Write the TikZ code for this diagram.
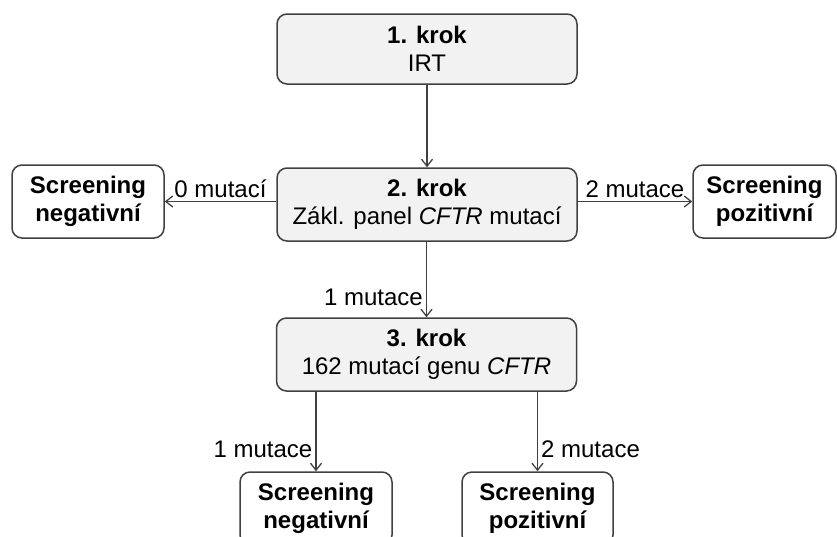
\documentclass[tikz,border=0pt]{standalone}
\usepackage{fontspec}
\setmainfont{Liberation Sans}
\usetikzlibrary{arrows.meta}
\definecolor{krokfill}{HTML}{F2F2F2}
\definecolor{ramec}{HTML}{404040}
\begin{document}
\begin{tikzpicture}[x=1pt, y=-1pt,
  every node/.style={font=\fontsize{24}{28}\selectfont},
  krok/.style={draw=ramec, line width=1.5pt, fill=krokfill, rounded corners=10pt,
    minimum width=300pt, minimum height=73pt, align=center, inner sep=0pt},
  vysledek/.style={draw=ramec, line width=1.5pt, fill=white, rounded corners=10pt,
    minimum width=152pt, minimum height=73pt, align=center, inner sep=0pt,
    font=\fontsize{24}{28}\selectfont\bfseries},
  sipka/.style={draw=ramec, line width=1.3pt, -{Straight Barb[length=7pt,width=11pt]}},
  popis/.style={inner sep=3pt}]
  \useasboundingbox (0,0) rectangle (837,536);
  % kroky
  \node[krok, minimum height=70pt] (k1) at (427,49) {\textbf{1. krok}\\IRT};
  \node[krok] (k2) at (427,204.5) {\textbf{2. krok}\\Zákl. panel \textit{CFTR} mutací};
  \node[krok] (k3) at (426.5,354.5) {\textbf{3. krok}\\162 mutací genu \textit{CFTR}};
  % vysledky
  \node[vysledek] (neg1) at (88,201.5) {Screening\\negativní};
  \node[vysledek, minimum width=143pt] (poz1) at (764.5,201.5) {Screening\\pozitivní};
  \node[vysledek] (neg2) at (316,508.5) {Screening\\negativní};
  \node[vysledek, minimum width=151pt] (poz2) at (537.5,508.5) {Screening\\pozitivní};
  % sipky
  \draw[sipka] (k1.south) -- (k1.south |- k2.north);
  \draw[sipka] (k2.west |- neg1) -- node[popis, above] {0 mutací} (neg1.east);
  \draw[sipka] (k2.east |- poz1) -- node[popis, above] {2 mutace} (poz1.west);
  \draw[sipka] (k3.north |- k2.south) -- node[popis, left, pos=0.74] {1 mutace} (k3.north);
  \draw[sipka] (k3.south -| neg2) -- node[popis, left, pos=0.72] {1 mutace} (neg2.north);
  \draw[sipka] (k3.south -| poz2) -- node[popis, right, pos=0.72] {2 mutace} (poz2.north);
\end{tikzpicture}
\end{document}
